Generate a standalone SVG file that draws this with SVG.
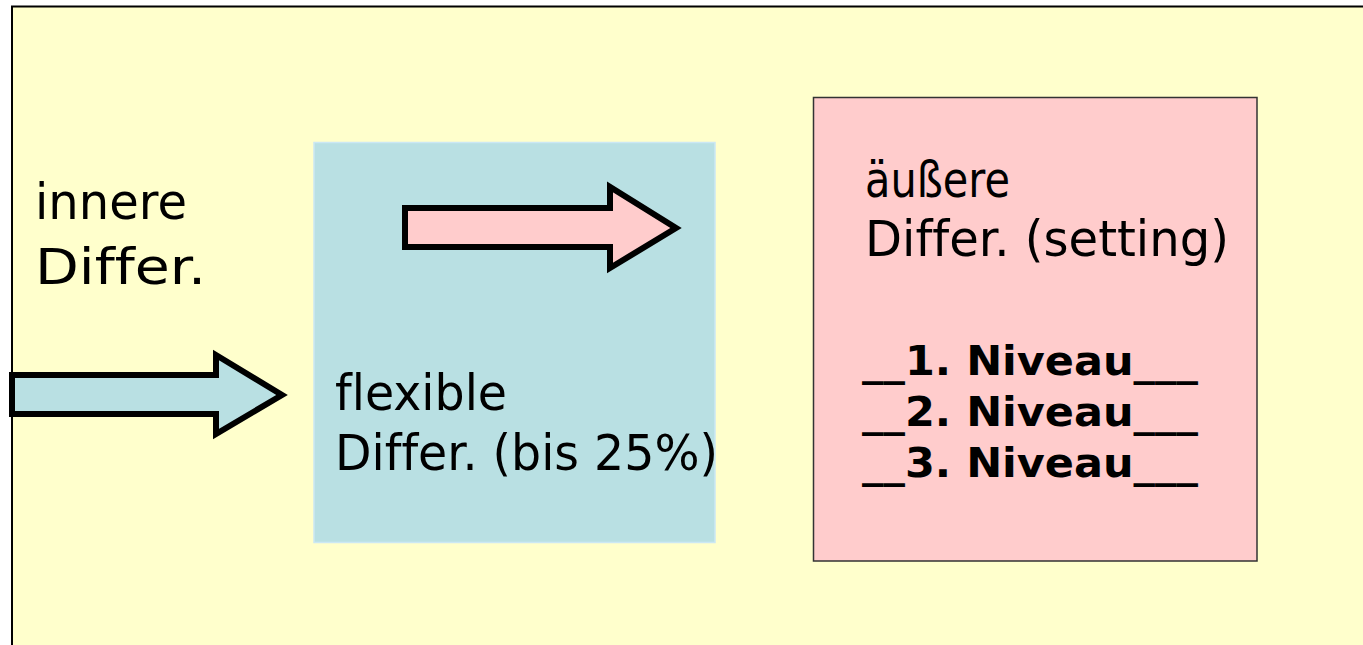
<svg xmlns="http://www.w3.org/2000/svg" width="1363" height="645" viewBox="0 0 1363 645">
<style>
.t{font-family:"DejaVu Sans","Liberation Sans",sans-serif;font-size:50px;fill:#000;font-variant-ligatures:none}
.b{font-family:"DejaVu Sans","Liberation Sans",sans-serif;font-size:40px;font-weight:bold;fill:#000;font-variant-ligatures:none}
.arrow{stroke:#000;stroke-width:6;stroke-linejoin:miter}
</style>
<rect width="1363" height="645" fill="#ffffff"/>
<g id="background">
<rect x="12" y="6.5" width="1370" height="660" fill="#ffffcc" stroke="#000" stroke-width="2"/>
</g>
<g id="label-innere">
<text class="t" x="35" y="219" textLength="152" lengthAdjust="spacingAndGlyphs">innere</text>
<text class="t" x="35" y="284" textLength="171" lengthAdjust="spacingAndGlyphs">Differ.</text>
</g>
<g id="node-flexible">
<rect x="314" y="142.5" width="401" height="400" fill="#b9e0e3" stroke="#cce8f4" stroke-width="1.5"/>
<text class="t" x="335" y="410" textLength="172" lengthAdjust="spacingAndGlyphs">flexible</text>
<text class="t" x="335" y="470" textLength="383" lengthAdjust="spacingAndGlyphs">Differ. (bis 25%)</text>
</g>
<g id="node-aeussere">
<rect x="813.5" y="97.5" width="443.5" height="463.5" fill="#ffcccc" stroke="#333" stroke-width="1.5"/>
<text class="t" x="865" y="197" textLength="145" lengthAdjust="spacingAndGlyphs">äußere</text>
<text class="t" x="865" y="256" textLength="364" lengthAdjust="spacingAndGlyphs">Differ. (setting)</text>
<text class="b" x="862" y="375" textLength="336" lengthAdjust="spacingAndGlyphs">__1. Niveau___</text>
<text class="b" x="862" y="426" textLength="336" lengthAdjust="spacingAndGlyphs">__2. Niveau___</text>
<text class="b" x="862" y="477" textLength="336" lengthAdjust="spacingAndGlyphs">__3. Niveau___</text>
</g>
<g id="connectors">
<polygon class="arrow" fill="#b9e0e3" points="12,375 216,375 216,355 282,395 216,434 216,414 12,414"/>
<polygon class="arrow" fill="#ffcccc" points="405,208 610,208 610,187 676,228 610,268 610,247 405,247"/>
</g>
</svg>
